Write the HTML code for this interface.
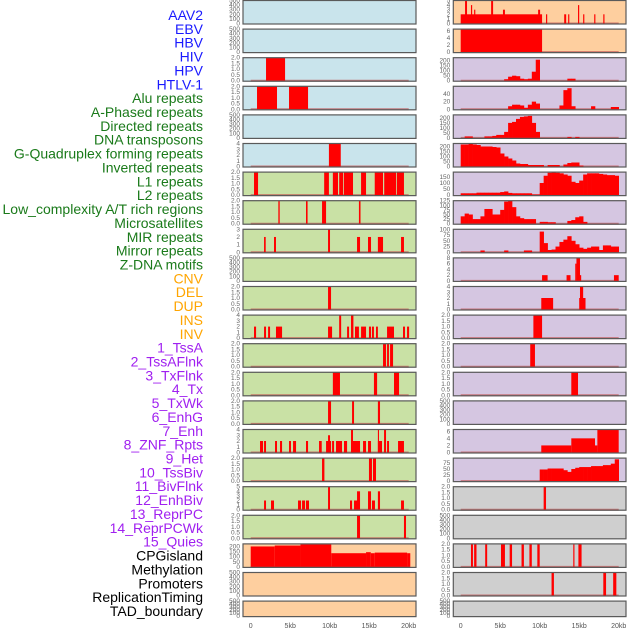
<!DOCTYPE html>
<html><head><meta charset="utf-8"><style>
html,body{margin:0;padding:0;background:#fff;width:630px;height:630px;overflow:hidden}
svg{display:block}
</style></head><body>
<svg id="chart" width="630" height="630" xmlns="http://www.w3.org/2000/svg"></svg>
<script>
const labels = ["AAV2","EBV","HBV","HIV","HPV","HTLV-1","Alu repeats","A-Phased repeats","Directed repeats","DNA transposons","G-Quadruplex forming repeats","Inverted repeats","L1 repeats","L2 repeats","Low_complexity A/T rich regions","Microsatellites","MIR repeats","Mirror repeats","Z-DNA motifs","CNV","DEL","DUP","INS","INV","1_TssA","2_TssAFlnk","3_TxFlnk","4_Tx","5_TxWk","6_EnhG","7_Enh","8_ZNF_Rpts","9_Het","10_TssBiv","11_BivFlnk","12_EnhBiv","13_ReprPC","14_ReprPCWk","15_Quies","CPGisland","Methylation","Promoters","ReplicationTiming","TAD_boundary"];
const labelColors = [].concat(Array(6).fill("#1a1aff"),Array(13).fill("#1a7a1a"),Array(5).fill("#ffa500"),Array(15).fill("#a020f0"),Array(5).fill("#000"));
const bgColors = [].concat(Array(6).fill("#c9e4ec"),Array(13).fill("#c9e1a5"),Array(5).fill("#fecf9f"),Array(15).fill("#d5c6e1"),Array(5).fill("#cfcfcf"));
const yMax = [500,500,2,2,500,4,2,2,3,500,2,4,2,2,2,4,2,5,2,225,500,500,
              5,6.5,230,60,230,230,190,125,100,8,4,2,2,2,500,6.5,95,2,500,2,2,500];
const tickSets = {
  e:[0,100,200,300,400,500], two:[0,0.5,1,1.5,2], four:[0,1,2,3,4], three:[0,1,2,3], five:[0,1,2,3,4,5],
  six:[0,2,4,6], eight:[0,2,4,6,8], c200:[0,50,100,150,200], c150:[0,50,100,150], c40:[0,20,40], c125:[0,25,50,75,100,125], c100:[0,25,50,75,100], c75:[0,25,50,75]
};
const panelTicks = ["e","e","two","two","e","four","two","two","three","e","two","four","two","two","two","four","two","five","two","c200","e","e",
  "five","six","c200","c40","c200","c200","c150","c125","c100","eight","four","two","two","two","e","six","c75","two","e","two","two","e"];
const xTicks = [0,5,10,15,20];
const xTickLabels = ["0","5kb","10kb","15kb","20kb"];
const segments = {
  2:[[1.94,4.35,2]],
  3:[[0.8,3.33,2],[4.85,7.26,2]],
  5:[[9.9,11.4,4]],
  6:[[0.42,0.93,2],[9.3,9.9,2],[10.4,11.05,2],[11.2,11.7,2],[11.8,12.95,2],[13.97,14.6,2],[15.7,16.75,2],[16.9,18.4,2],[18.5,19.4,2]],
  7:[[3.5,3.67,2],[7.0,7.2,2],[9.03,9.54,2],[13.7,13.9,2]],
  8:[[1.69,1.9,2],[2.95,3.2,2],[9.79,10.04,3],[13.46,13.84,2],[14.85,15.23,2],[16.1,16.75,2],[19.03,19.4,2]],
  10:[[9.79,10.17,2]],
  11:[[0.42,0.68,2],[1.69,1.94,2],[2.2,2.45,2],[3.2,3.97,2],[9.79,10.3,2],[12.2,12.45,2],[13.2,13.7,2],[13.97,14.6,2],[14.97,15.23,2],[15.35,15.6,2],[15.86,16.1,2],[17.26,18.14,2],[19.28,19.53,2],[19.79,20.05,2],[11.2,11.45,4],[12.7,13.0,4]],
  12:[[16.75,17.13,2],[17.26,17.5,2],[17.64,18.02,2]],
  13:[[10.4,11.3,2],[15.6,16.0,2],[18.14,18.78,2]],
  14:[[9.79,10.17,2],[12.83,13.08,2],[16.1,16.37,2]],
  15:[[1.18,1.56,2],[1.69,1.94,2],[3.08,3.33,2],[3.71,3.97,2],[4.85,5.1,2],[5.36,5.74,2],[7.0,7.26,2],[8.65,8.99,2],[9.54,10.17,2],[10.3,10.55,2],[10.8,11.56,2],[11.81,12.2,2],[12.7,13.84,2],[14.22,14.6,2],[14.85,15.23,2],[16.1,16.62,2],[17.26,17.51,2],[18.65,19.4,2],[9.79,10.04,3],[12.7,12.95,4],[16.1,16.24,4],[16.88,17.13,4]],
  16:[[9.03,9.33,2],[14.97,15.35,2],[15.48,15.86,2]],
  17:[[1.69,1.94,2],[2.57,2.95,2],[5.99,6.37,2],[6.5,6.88,2],[7.0,7.38,2],[12.57,12.83,2],[13.08,13.59,2],[15.35,15.73,2],[19.03,19.4,2],[9.79,10.04,5],[13.46,13.84,4],[14.85,15.23,4],[16.1,16.37,4]],
  18:[[13.46,13.84,2],[19.4,19.66,2]],
  19:[[0,3.04,200],[3.04,6.3,209],[6.3,10.2,219],[10.2,14.6,134],[14.6,15.2,144],[15.2,15.7,134],[15.7,19.8,140],[19.8,20.2,134]],
  22:[[0,10.3,2],[0.55,0.8,5],[1.3,1.45,4],[1.7,1.85,3],[3.85,4.1,5],[5.35,5.6,3],[9.8,10.05,3],[10.8,10.95,2],[13.1,13.35,2],[13.6,13.75,2],[14.85,15.0,4],[15.5,15.65,2],[16.9,17.05,2],[18.05,18.2,2]],
  23:[[0,10.3,6.5]],
  31:[[10.3,11.0,2],[13.4,13.9,2],[14.5,14.65,6],[14.65,15.1,8],[15.1,15.25,2],[19.4,20,2]],
  32:[[10.2,11.7,2],[15.0,15.8,2],[15.1,15.5,4]],
  33:[[9.2,10.3,2]],
  34:[[8.8,9.4,2]],
  35:[[14.0,14.85,2]],
  37:[[10.2,14.0,2],[14.0,17.0,4],[17.0,17.3,2],[17.3,20,6.5]],
  39:[[10.5,10.8,2]],
  41:[[1.3,1.55,2],[1.7,2.0,2],[3.1,3.35,2],[5.1,5.6,2],[6.2,6.5,2],[7.7,8.0,2],[8.7,9.0,2],[9.7,10.0,2],[14.25,14.4,2],[14.9,15.3,2]],
  42:[[11.5,11.8,2],[18.05,18.4,2],[19.3,19.7,2]]
};
const bins = {
  24:[0,0,0,0,0,0,0,0,0,0,0,15,40,50,45,20,15,20,90,210,0,0,0,0,0,0,0,20,20],
  25:[0,0,0,0,0,0,0,0,0,0,0,0,8,12,12,10,4,12,20,15,0,0,0,0,0,10,50,55,8,0,0,0,0,8,0,0,0,0,6,6],
  26:[0,15,15,0,0,0,15,15,20,30,30,60,150,160,190,210,215,220,150,60,0,0,0,0,0,0,0,10,0,10],
  27:[220,220,225,220,215,200,200,200,195,190,130,100,80,60,30,25,25,15,15,15,15,0,15,15,15,0,20,35,40,40,10],
  28:[15,15,15,15,20,20,20,20,20,20,25,30,18,15,15,15,15,15,5,5,100,160,185,190,185,180,170,160,110,100,120,170,180,180,180,175,170,165,165,160],
  29:[40,55,50,25,25,40,80,80,50,50,75,120,125,90,40,30,25,25,25,0,10,10,8,8,0,0,0,15,20,35,40,10],
  30:[0,0,0,0,0,8,0,0,0,0,0,8,0,0,0,0,8,8,0,0,90,40,10,12,25,45,55,70,50,35,20,15,20,25,25,10,30,30,25,25],
  38:[0,0,0,0,0,0,0,0,0,0,0,0,0,0,0,0,0,0,0,0,48,48,52,52,52,52,45,38,50,55,58,58,58,62,62,62,66,66,72,90]
};
const NS="http://www.w3.org/2000/svg";
const svg=document.getElementById("chart");
function mk(tag,attrs,parent){const e=document.createElementNS(NS,tag);for(const k in attrs)e.setAttribute(k,attrs[k]);(parent||svg).appendChild(e);return e;}
function rowTop(r){return r*28.6;}
function rowH(r){return r===21?16.5:24.5;}
function colGeom(c){return c===0?{x0:243,x1:416,k0:250.7,k1:408.7}:{x0:453.3,x1:626,k0:460.7,k1:618.7};}

labels.forEach((t,i)=>{
  const el=mk("text",{x:203,y:20+i*13.86,"text-anchor":"end","font-family":"Liberation Sans, sans-serif","font-size":"14",fill:labelColors[i]});
  el.textContent=t;
  
  
});

for(let p=0;p<44;p++){
  const col=p<22?0:1, r=p%22, g=colGeom(col);
  const top=rowTop(r), h=rowH(r);
  const grp=mk("g",{});
  
  
  const bg=mk("rect",{x:g.x0,y:top,width:g.x1-g.x0,height:h,fill:bgColors[p]},grp);
  
  
  const yb=top+h-1, yt=top+0.5, ym=yMax[p];
  const X=kb=>g.k0+(g.k1-g.k0)*kb/20;
  const Y=v=>yb-(yb-yt)*v/ym;
  const hasData=!!(segments[p]||bins[p]);
  if(hasData){
    const bl=mk("line",{x1:X(0),x2:X(20),y1:yb,y2:yb,stroke:"#c05050","stroke-width":2,opacity:0.7},grp);
    
    
  }
  (segments[p]||[]).forEach(s=>{
    const b=mk("rect",{x:X(s[0]),y:Y(s[2]),width:Math.max(0.8,X(s[1])-X(s[0])),height:yb-Y(s[2]),fill:"#ff0000"},grp);
    
    
  });
  (bins[p]||[]).forEach((v,i)=>{
    if(!v)return;
    const b=mk("rect",{x:X(i*0.5),y:Y(v),width:X((i+1)*0.5)-X(i*0.5)+0.3,height:yb-Y(v),fill:"#ff0000"},grp);
    
    
  });
  const br=mk("rect",{x:g.x0,y:top+0.5,width:g.x1-g.x0,height:h-1,fill:"none",stroke:"#5a5a5a","stroke-width":1.2},grp);
  
  
  tickSets[panelTicks[p]].forEach(tv=>{
    const tt=mk("text",{x:g.x0-3,y:Y(tv)+2,"text-anchor":"end","font-family":"Liberation Sans, sans-serif","font-size":"6.5",fill:"#666"},grp);
    tt.textContent=(panelTicks[p]==="two")?tv.toFixed(1):String(tv);
    
    
  });
}
for(let c=0;c<2;c++){
  const g=colGeom(c);
  xTicks.forEach((kb,i)=>{
    const t=mk("text",{x:g.k0+(g.k1-g.k0)*kb/20,y:628,"text-anchor":"middle","font-family":"Liberation Sans, sans-serif","font-size":"7",fill:"#555"});
    t.textContent=xTickLabels[i];
    
    
  });
}
</script>
</body></html>
